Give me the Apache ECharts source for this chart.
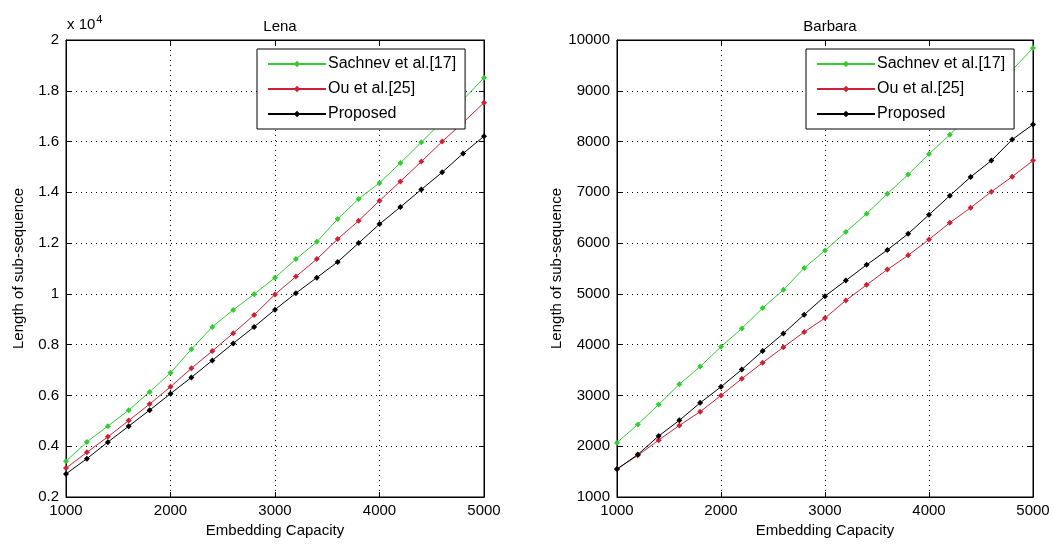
<!DOCTYPE html>
<html>
<head>
<meta charset="utf-8">
<title>Length of sub-sequence</title>
<script src="https://cdn.jsdelivr.net/npm/echarts@6/dist/echarts.min.js"></script>
<style>
  html, body { margin: 0; padding: 0; background: #fff; }
  #chart { width: 1053px; height: 546px; }
</style>
</head>
<body>
<div id="chart"></div>
<script>
// embedding capacity, every 200 bits
var capacity = [1000, 1200, 1400, 1600, 1800, 2000, 2200, 2400, 2600, 2800, 3000,
                3200, 3400, 3600, 3800, 4000, 4200, 4400, 4600, 4800, 5000];

// Lena
var lenaSachnev = [3410, 4170, 4790, 5420, 6140, 6890, 7820, 8700, 9370, 9990, 10640,
                   11370, 12050, 12950, 13740, 14370, 15160, 15970, 16800, 17650, 18510];
var lenaOu = [3140, 3760, 4370, 5010, 5660, 6340, 7070, 7750, 8450, 9170, 9980,
              10680, 11370, 12160, 12880, 13670, 14430, 15210, 16000, 16750, 17530];
var lenaProposed = [2910, 3510, 4160, 4790, 5420, 6070, 6710, 7380, 8050, 8700, 9380,
                    10030, 10640, 11260, 12000, 12750, 13420, 14110, 14790, 15530, 16210];

// Barbara
var barbaraSachnev = [2070, 2430, 2820, 3220, 3570, 3960, 4320, 4720, 5080, 5510, 5855,
                      6217, 6580, 6974, 7350, 7757, 8132, 8550, 8980, 9410, 9842];
var barbaraOu = [1550, 1820, 2120, 2410, 2680, 3000, 3330, 3645, 3950, 4250, 4525,
                 4870, 5178, 5480, 5760, 6072, 6401, 6697, 7013, 7309, 7625];
var barbaraProposed = [1550, 1836, 2200, 2510, 2855, 3170, 3510, 3875, 4220, 4590, 4955,
                       5263, 5572, 5865, 6184, 6559, 6934, 7303, 7625, 8039, 8336];

var names = ['Sachnev et al.[17]', 'Ou et al.[25]', 'Proposed'];
var colors = ['#33cc33', '#cc2233', '#000000'];

var FONT = 'Liberation Sans, Arial, sans-serif';

function pairs(ys) {
  return capacity.map(function (x, i) { return [x, ys[i]]; });
}

function plain(v) { return String(v); }

function xAxes(gi) {
  return [{
    type: 'value', gridIndex: gi, min: 1000, max: 5000, interval: 1000,
    name: 'Embedding Capacity', nameLocation: 'middle', nameGap: 26,
    nameTextStyle: { color: '#000', fontSize: 15, fontFamily: FONT },
    axisLine: { show: true, onZero: false, lineStyle: { color: '#000' } },
    axisTick: { inside: true, length: 5, lineStyle: { color: '#000' } },
    axisLabel: { color: '#000', fontSize: 15, fontFamily: FONT, margin: 6, formatter: plain },
    splitLine: { show: true, lineStyle: { color: '#000', type: [1, 4], width: 1 } }
  }, {
    type: 'value', gridIndex: gi, position: 'top', min: 1000, max: 5000, interval: 1000,
    axisLine: { show: true, lineStyle: { color: '#000' } },
    axisTick: { inside: true, length: 5, lineStyle: { color: '#000' } },
    axisLabel: { show: false }, splitLine: { show: false }
  }];
}

function yAxes(gi, min, max, interval, fmt, nameGap) {
  return [{
    type: 'value', gridIndex: gi, min: min, max: max, interval: interval,
    name: 'Length of sub-sequence', nameLocation: 'middle', nameGap: nameGap,
    nameTextStyle: { color: '#000', fontSize: 15, fontFamily: FONT },
    axisLine: { show: true, onZero: false, lineStyle: { color: '#000' } },
    axisTick: { inside: true, length: 5, lineStyle: { color: '#000' } },
    axisLabel: { color: '#000', fontSize: 15, fontFamily: FONT, margin: 7, formatter: fmt },
    splitLine: { show: true, lineStyle: { color: '#000', type: [1, 4], width: 1 } }
  }, {
    type: 'value', gridIndex: gi, position: 'right', min: min, max: max, interval: interval,
    axisLine: { show: true, lineStyle: { color: '#000' } },
    axisTick: { inside: true, length: 5, lineStyle: { color: '#000' } },
    axisLabel: { show: false }, splitLine: { show: false }
  }];
}

function lineSeries(name, color, ys, gi) {
  return {
    type: 'line', name: name, xAxisIndex: gi * 2, yAxisIndex: gi * 2,
    data: pairs(ys), symbol: 'diamond', symbolSize: 6, showSymbol: true,
    lineStyle: { color: color, width: 1 }, itemStyle: { color: color },
    animation: false, z: 3
  };
}

function legendAt(left) {
  return {
    orient: 'vertical', left: left, top: 49, width: 200,
    padding: [7, 9, 7, 10], itemGap: 9, itemWidth: 58, itemHeight: 8,
    backgroundColor: '#fff', borderColor: '#000', borderWidth: 1, borderRadius: 0,
    textStyle: { color: '#000', fontSize: 16, fontFamily: FONT, padding: [0, 0, 0, -3] },
    data: names, selectedMode: false
  };
}

var chart = echarts.init(document.getElementById('chart'), null, { renderer: 'canvas' });

var option = {
  backgroundColor: '#fff',
  animation: false,
  title: [
    { text: 'Lena', left: 275, top: 14, textAlign: 'center',
      textStyle: { fontSize: 15, fontWeight: 'normal', color: '#000', fontFamily: FONT } },
    { text: 'Barbara', left: 825, top: 14, textAlign: 'center',
      textStyle: { fontSize: 15, fontWeight: 'normal', color: '#000', fontFamily: FONT } }
  ],
  grid: [
    { left: 66, top: 40, width: 418, height: 457, show: true, borderColor: '#000', borderWidth: 1, backgroundColor: '#fff' },
    { left: 617, top: 40, width: 416, height: 457, show: true, borderColor: '#000', borderWidth: 1, backgroundColor: '#fff' }
  ],
  xAxis: xAxes(0).concat(xAxes(1)),
  yAxis: yAxes(0, 2000, 20000, 2000, function (v) { return String(+(v / 10000).toFixed(1)); }, 40)
    .concat(yAxes(1, 1000, 10000, 1000, plain, 52)),
  legend: [legendAt(257), legendAt(806)],
  graphic: [{
    type: 'text', left: 67, top: 14,
    style: {
      text: 'x 10{sup|4}', fill: '#000', font: '15px ' + FONT,
      rich: { sup: { fontSize: 11, verticalAlign: 'top', padding: [0, 0, 10, 1] } }
    }
  }],
  series: [
    lineSeries(names[0], colors[0], lenaSachnev, 0),
    lineSeries(names[1], colors[1], lenaOu, 0),
    lineSeries(names[2], colors[2], lenaProposed, 0),
    lineSeries(names[0], colors[0], barbaraSachnev, 1),
    lineSeries(names[1], colors[1], barbaraOu, 1),
    lineSeries(names[2], colors[2], barbaraProposed, 1)
  ]
};

chart.setOption(option);
</script>
</body>
</html>
